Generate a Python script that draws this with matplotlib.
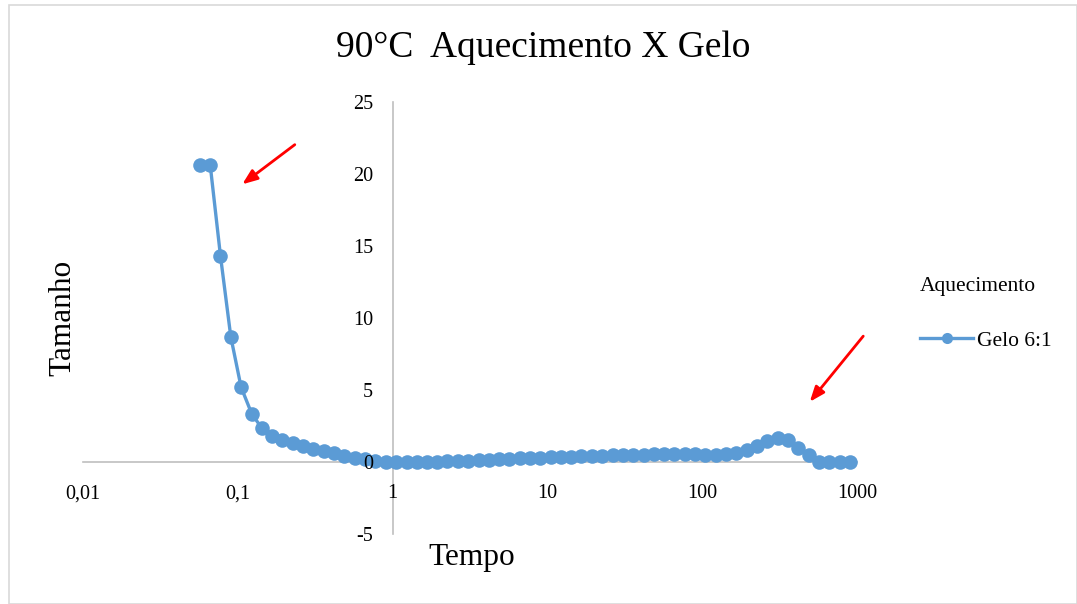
import matplotlib.pyplot as plt
import matplotlib.ticker as mticker
from matplotlib.lines import Line2D
from matplotlib.patches import Rectangle

# data
tempo = [0.0569, 0.0663, 0.0773, 0.0901, 0.105, 0.123, 0.143, 0.167, 0.194, 0.226,
         0.264, 0.308, 0.359, 0.418, 0.488, 0.568, 0.663, 0.773, 0.901, 1.05,
         1.23, 1.43, 1.67, 1.94, 2.26, 2.64, 3.08, 3.59, 4.18, 4.87,
         5.68, 6.63, 7.72, 9.01, 10.5, 12.2, 14.3, 16.6, 19.4, 22.6,
         26.4, 30.7, 35.8, 41.8, 48.7, 56.8, 66.2, 77.2, 90.0, 105,
         122, 143, 166, 194, 226, 264, 307, 358, 418, 487,
         568, 662, 771, 899]
tamanho = [20.6, 20.65, 14.3, 8.7, 5.2, 3.35, 2.35, 1.8, 1.5, 1.3,
           1.1, 0.9, 0.75, 0.6, 0.45, 0.3, 0.2, 0.07, 0.0, 0.0,
           0.0, 0.0, 0.0, 0.02, 0.05, 0.08, 0.1, 0.13, 0.16, 0.19,
           0.22, 0.25, 0.28, 0.3, 0.33, 0.36, 0.38, 0.4, 0.42, 0.44,
           0.46, 0.48, 0.5, 0.52, 0.53, 0.54, 0.53, 0.53, 0.53, 0.48,
           0.48, 0.55, 0.64, 0.8, 1.12, 1.48, 1.7, 1.52, 0.96, 0.46,
           0.0, 0.0, 0.0, 0.0]

x_ticks = [0.01, 0.1, 1, 10, 100, 1000]
x_tick_labels = ['0,01', '0,1', '1', '10', '100', '1000']
y_ticks = [-5, 0, 5, 10, 15, 20, 25]

serie = 'Gelo 6:1'
legenda_titulo = 'Aquecimento'
titulo = '90°C  Aquecimento X Gelo'
azul = '#5b9bd5'

plt.rcParams['font.family'] = ['Liberation Serif', 'DejaVu Serif']
plt.rcParams['axes.unicode_minus'] = False

W, H = 1077, 604
fig = plt.figure(figsize=(W / 100, H / 100), dpi=100)

# light chart border like the spreadsheet export
fig.patches.append(Rectangle((9 / W, 0), 1 - 9 / W, 1 - 5 / H, transform=fig.transFigure,
                             fill=False, edgecolor='#d9d9d9', linewidth=1.2))

ax = fig.add_axes([83 / W, 1 - 534 / H, (857 - 83) / W, (534 - 102) / H])
ax.set_xscale('log')
ax.set_xlim(0.01, 1000)
ax.set_ylim(-5, 25)

ax.plot(tempo, tamanho, color=azul, linewidth=2.4, marker='o',
        markersize=10.5, markeredgewidth=0, zorder=3, clip_on=False)

# axes crossing at x=1 and y=0
for s in ['top', 'right']:
    ax.spines[s].set_visible(False)
ax.spines['left'].set_position(('data', 1))
ax.spines['bottom'].set_position(('data', 0))
for s in ['left', 'bottom']:
    ax.spines[s].set_color('#bfbfbf')
    ax.spines[s].set_linewidth(1.2)
ax.yaxis.set_zorder(4)
ax.xaxis.set_zorder(4)

ax.xaxis.set_major_locator(mticker.FixedLocator(x_ticks))
ax.xaxis.set_major_formatter(mticker.FixedFormatter(x_tick_labels))
ax.xaxis.set_minor_locator(mticker.NullLocator())
ax.set_yticks(y_ticks)
ax.tick_params(axis='both', length=0, labelsize=14.5, colors='black')
ax.tick_params(axis='x', pad=16)
ax.tick_params(axis='y', pad=14)

fig.text(543 / W, 1 - 48 / H, titulo, ha='center', va='center', fontsize=27)
fig.text(63 / W, 1 - 318 / H, 'Tamanho', ha='center', va='center', rotation=90, fontsize=22.5)
fig.text(472 / W, 1 - 558 / H, 'Tempo', ha='center', va='center', fontsize=22.5)

handle = Line2D([], [], color=azul, linewidth=2.4, marker='o', markersize=8, markeredgewidth=0)
leg = ax.legend([handle], [serie], title=legenda_titulo, loc='center left',
                bbox_to_anchor=(911 / W, 1 - 314 / H), bbox_transform=fig.transFigure,
                frameon=False, fontsize=15.5, title_fontsize=15.5, handlelength=2.5,
                handletextpad=0.15, labelspacing=0.5, borderaxespad=0)
leg._legend_box.sep = 25
leg._legend_box.align = 'left'

# red arrows pointing at the two regions
seta = dict(arrowstyle='-|>,head_length=0.9,head_width=0.35', color='red', linewidth=2)
ax.annotate('', xy=(240 / W, 1 - 186 / H), xytext=(297 / W, 1 - 143 / H),
            xycoords='figure fraction', textcoords='figure fraction', arrowprops=seta)
ax.annotate('', xy=(808 / W, 1 - 404 / H), xytext=(865 / W, 1 - 334 / H),
            xycoords='figure fraction', textcoords='figure fraction', arrowprops=seta)

fig.savefig('out.png', dpi=100)
